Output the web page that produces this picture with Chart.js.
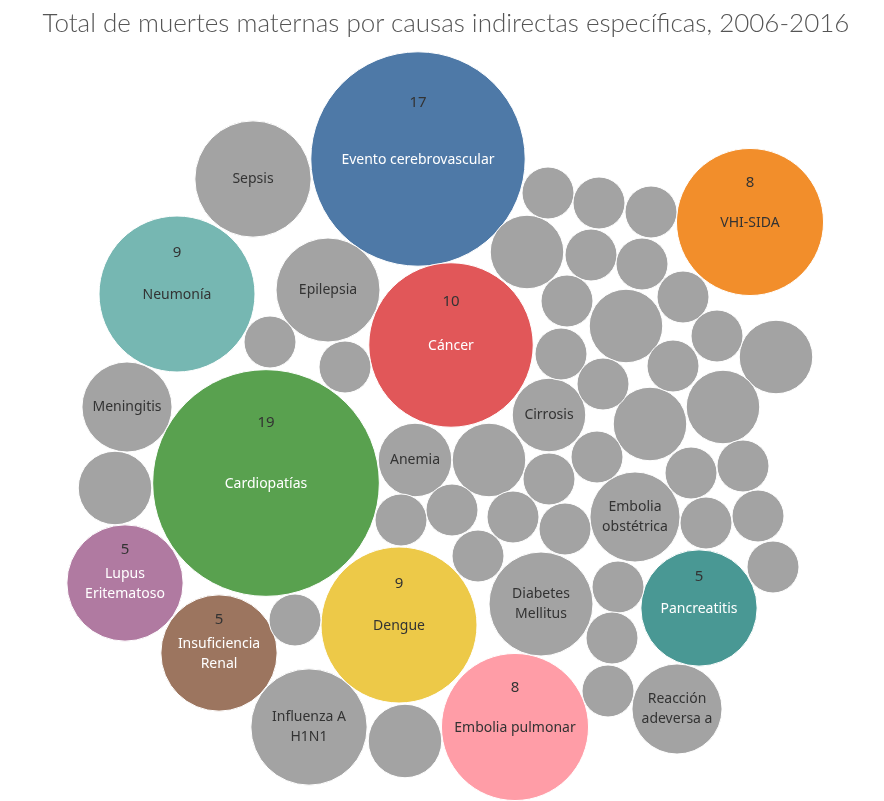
<!DOCTYPE html>
<html lang="es">
<head>
<meta charset="utf-8">
<title>Muertes maternas por causas indirectas</title>
<script src="https://cdn.jsdelivr.net/npm/chart.js@4.4.1/dist/chart.umd.min.js"></script>
<style>
    html, body { margin: 0; padding: 0; background: #ffffff; }
    #wrap { position: relative; width: 884px; height: 801px; }
    #title {
        position: absolute; left: 0; top: 6px; width: 892px;
        text-align: center; font: 300 26px Lato, "Noto Sans", sans-serif; color: #555555;
    }
    #packChart { position: absolute; left: 0; top: 0; }
</style>
</head>
<body>
<div id="wrap">
    <canvas id="packChart" width="884" height="801"></canvas>
    <div id="title">Total de muertes maternas por causas indirectas específicas, 2006-2016</div>
</div>
<script>
// =====================================================
// Data
// =====================================================

// Causes; unnamed bubbles are causes whose label is hidden in the original
const causes = [
    'Cardiopatías', 'Evento cerebrovascular', 'Cáncer', 'Neumonía', 'Dengue',
    'VHI-SIDA', 'Embolia pulmonar', 'Lupus\nEritematoso', 'Insuficiencia\nRenal', 'Pancreatitis',
    'Sepsis', 'Influenza A\nH1N1', 'Epilepsia', 'Diabetes\nMellitus', 'Meningitis',
    'Embolia\nobstétrica', 'Reacción\nadeversa a', 'Anemia', 'Cirrosis',
    '', '', '', '', '', '', '', '',
    '', '', '', '', '', '', '', '', '', '', '', '', '', '', '',
    '', '', '', '', '', '', '', '', '', '', '', '', '', ''
];

// Total deaths 2006-2016 per cause
const deaths = [
    19, 17, 10, 9, 9,
    8, 8, 5, 5, 5,
    5, 5, 4, 4, 3,
    3, 3, 2, 2,
    2, 2, 2, 2, 2, 2, 2, 2,
    1, 1, 1, 1, 1, 1, 1, 1, 1, 1, 1, 1, 1, 1, 1,
    1, 1, 1, 1, 1, 1, 1, 1, 1, 1, 1, 1, 1, 1
];

// Packed-bubble layout (bubble chart x / y values)
const packX = [
    266, 418, 451, 177, 399,
    750, 515, 125, 219, 699,
    253, 309, 328, 541, 127,
    635, 677, 415, 549,
    527, 626, 776, 650, 723, 489, 115, 405,
    548, 599, 651, 591, 642, 567, 683, 561, 603, 673, 717, 270, 345, 597, 549,
    691, 743, 401, 452, 513, 565, 478, 706, 758, 773, 618, 612, 608, 295
];
const packY = [
    483, 159, 345, 294, 625,
    222, 727, 583, 653, 608,
    179, 727, 290, 604, 407,
    517, 709, 460, 415,
    252, 326, 357, 424, 407, 460, 488, 741,
    193, 203, 212, 255, 264, 301, 297, 354, 384, 366, 336, 342, 367, 457, 479,
    473, 466, 520, 510, 517, 529, 556, 523, 516, 567, 587, 638, 691, 620
];

// =====================================================
// Styling
// =====================================================

const GRAY = '#a3a3a3';
const BUBBLE_K = 26;          // radius of a 1-death bubble, in axis units
const CANVAS_W = 884;
const X_RANGE = [0, 884];
const Y_RANGE = [0, 801];
const LABEL_FONT = '14px "Noto Sans", sans-serif';
const VALUE_FONT = '15px "Noto Sans", sans-serif';

// highlighted causes: [fill, label colour]
const highlight = {
    'Cardiopatías':           ['#59a14f', '#ffffff'],
    'Evento cerebrovascular': ['#4e79a7', '#ffffff'],
    'Cáncer':                 ['#e15759', '#ffffff'],
    'Neumonía':               ['#76b7b2', '#333333'],
    'Dengue':                 ['#edc948', '#333333'],
    'VHI-SIDA':               ['#f28e2b', '#333333'],
    'Embolia pulmonar':       ['#ff9da7', '#333333'],
    'Lupus\nEritematoso':     ['#b07aa1', '#ffffff'],
    'Insuficiencia\nRenal':   ['#9c755f', '#ffffff'],
    'Pancreatitis':           ['#499894', '#ffffff']
};

// pixels per axis unit (chart area spans the whole canvas)
const pxPerUnit = CANVAS_W / (X_RANGE[1] - X_RANGE[0]);

function bubbleRadius(value) {
    return BUBBLE_K * Math.sqrt(value) * pxPerUnit;
}

// =====================================================
// Labels plugin
// =====================================================

const bubbleLabels = {
    id: 'bubbleLabels',
    afterDatasetsDraw(chart) {
        const ctx = chart.ctx;
        const meta = chart.getDatasetMeta(0);
        ctx.save();
        ctx.textAlign = 'center';
        ctx.textBaseline = 'middle';
        meta.data.forEach((pt, i) => {
            const name = causes[i];
            if (!name) return;
            const r = bubbleRadius(deaths[i]);
            const lines = name.split('\n');
            const hl = highlight[name];
            const lineH = 20;
            let top = pt.y - (lines.length - 1) * lineH / 2;

            if (hl) {
                ctx.fillStyle = '#333333';
                ctx.font = VALUE_FONT;
                const numY = lines.length > 1 ? pt.y - 0.55 * r - 1 : pt.y - 0.52 * r - 1;
                ctx.fillText(String(deaths[i]), pt.x, numY);
                ctx.fillStyle = hl[1];
                top += 1;
            } else {
                ctx.fillStyle = '#333333';
            }
            ctx.font = LABEL_FONT;
            lines.forEach((line, j) => {
                ctx.fillText(line, pt.x, top + j * lineH);
            });
        });
        ctx.restore();
    }
};

// =====================================================
// Chart
// =====================================================

function initPackChart() {
    const ctx = document.getElementById('packChart');
    if (!ctx) return;

    const points = causes.map((c, i) => ({
        x: packX[i],
        y: packY[i],
        r: bubbleRadius(deaths[i])
    }));

    new Chart(ctx, {
        type: 'bubble',
        data: {
            labels: causes,
            datasets: [{
                label: 'Muertes',
                data: points,
                backgroundColor: causes.map(c => highlight[c] ? highlight[c][0] : GRAY),
                hoverBackgroundColor: causes.map(c => highlight[c] ? highlight[c][0] : GRAY),
                borderColor: '#ffffff',
                borderWidth: 1,
                hoverBorderWidth: 1,
                hoverRadius: 0,
                clip: false
            }]
        },
        options: {
            responsive: false,
            animation: false,
            layout: { padding: 0, autoPadding: false },
            plugins: {
                legend: { display: false },
                tooltip: {
                    callbacks: {
                        label: (c) => causes[c.dataIndex].replace('\n', ' ') + ': ' + deaths[c.dataIndex]
                    }
                }
            },
            scales: {
                x: { type: 'linear', display: false, min: X_RANGE[0], max: X_RANGE[1] },
                y: { type: 'linear', display: false, min: Y_RANGE[0], max: Y_RANGE[1], reverse: true }
            }
        },
        plugins: [bubbleLabels]
    });
}

initPackChart();
</script>
</body>
</html>
